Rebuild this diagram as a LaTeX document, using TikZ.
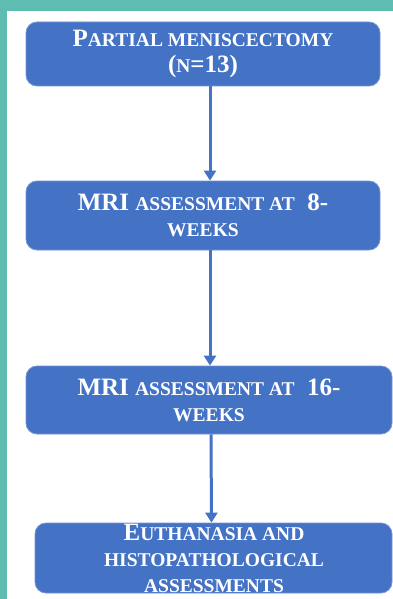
\documentclass[tikz,border=0pt]{standalone}
\usepackage{fontspec}
\setmainfont{Liberation Serif}
\usepackage{xcolor}
\usepackage{tikz}
\usetikzlibrary{positioning}
\usetikzlibrary{arrows.meta}
\definecolor{bgteal}{RGB}{94,189,176}
\definecolor{boxblue}{RGB}{68,114,196}
\tikzset{edge/.style = {-{Triangle[width=12pt,length=10pt]}, line width=3pt, draw=boxblue}}
\newcommand{\smcap}[1]{{\fontsize{19.5}{26}\selectfont #1}}

\begin{document}
\begin{tikzpicture}[x=1pt,y=-1pt,main node/.style={rectangle,rounded corners=11pt,fill=boxblue,draw=boxblue!75!white,line width=0.8pt,inner sep=0pt,font=\fontsize{25}{26}\selectfont\bfseries,text=white,align=center}]
            \fill[bgteal] (0,0) rectangle (393,599);
            \fill[white] (7,11) rectangle (393,599);

            \node[main node,minimum width=354pt,minimum height=64pt] (1) at (203,54) {P\smcap{ARTIAL MENISCECTOMY}\\(\smcap{N}=13)};
            \node[main node,minimum width=354pt,minimum height=69pt] (2) at (203,215.5) {MRI \smcap{ASSESSMENT AT}\ \ 8-\\\smcap{WEEKS}};
            \node[main node,minimum width=366pt,minimum height=68pt] (3) at (209,400) {MRI \smcap{ASSESSMENT AT}\ \ 16-\\\smcap{WEEKS}};
            \node[main node,minimum width=357pt,minimum height=70pt] (4) at (213.5,558) {};
            % text runs past the bottom of the last box
            \node[main node,fill=none,draw=none,anchor=north] (4t) at (214,524) {E\smcap{UTHANASIA AND}\\\smcap{HISTOPATHOLOGICAL}\\\smcap{ASSESSMENTS}};

            \draw[edge] ([xshift=7pt]1.south) -- ([xshift=7pt]2.north);
            \draw[edge] ([xshift=7pt]2.south) -- ([xshift=1pt]3.north);
            \draw[edge] ([xshift=2pt]3.south) -- ([xshift=-2pt]4.north);
        \end{tikzpicture}
\end{document}
